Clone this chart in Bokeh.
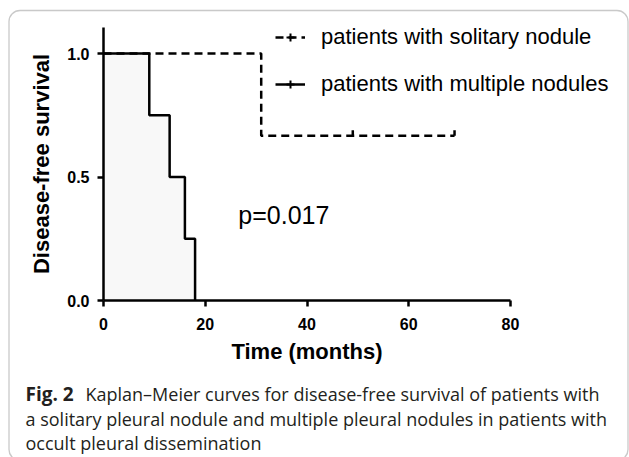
import numpy as np
from bokeh.plotting import figure
from bokeh.models import (Range1d, FixedTicker, Label, Legend, LegendItem,
                          BoxAnnotation, NumeralTickFormatter, LinearAxis)
from bokeh.embed import file_html
from bokeh.resources import INLINE

# ---------------- data ----------------
solitary_time = [0, 31, 69]
solitary_surv = [1.0, 0.667, 0.667]
solitary_censor_time = [49, 69]
solitary_censor_surv = [0.667, 0.667]

multiple_time = [0, 9, 13, 16, 18]
multiple_surv = [1.0, 0.75, 0.5, 0.25, 0.0]

x_ticks = [0, 20, 40, 60, 80]
y_ticks = [0.0, 0.5, 1.0]

legend_labels = ["patients with solitary nodule", "patients with multiple nodules"]
p_value_text = "p=0.017"
x_title = "Time (months)"
y_title = "Disease-free survival"
caption_bold = "Fig. 2"
caption_lines = [
    "Kaplan\u2013Meier curves for disease-free survival of patients with",
    "a solitary pleural nodule and multiple pleural nodules in patients with",
    "occult pleural dissemination",
]

# ---------------- layout constants (pixels) ----------------
W, H = 629, 457
X0_PX, X80_PX = 103, 510      # x = 0 and x = 80
Y0_PX, Y1_PX = 300, 53        # y = 0 and y = 1.0
X_MAX, Y_MAX = 80, 1.105
px_x = (X80_PX - X0_PX) / 80.0
px_y = (Y0_PX - Y1_PX) / 1.0

x_range = Range1d(-X0_PX / px_x, (W - X0_PX) / px_x)
y_range = Range1d(-(H - Y0_PX) / px_y, Y0_PX / px_y)

p = figure(width=W, height=H, output_backend="svg", toolbar_location=None,
           x_range=x_range, y_range=y_range,
           x_axis_location=None, y_axis_location=None,
           min_border=0, min_border_left=0, min_border_right=0,
           min_border_top=0, min_border_bottom=0)
p.outline_line_color = None
p.xgrid.visible = False
p.ygrid.visible = False
p.background_fill_color = "white"
p.border_fill_color = "white"

xaxis = LinearAxis(fixed_location=0, bounds=(0, X_MAX), ticker=FixedTicker(ticks=x_ticks),
                   axis_label=x_title)
yaxis = LinearAxis(fixed_location=0, bounds=(0, Y_MAX), ticker=FixedTicker(ticks=y_ticks),
                   formatter=NumeralTickFormatter(format="0.0"), axis_label=y_title)
for ax in (xaxis, yaxis):
    ax.axis_line_width = 2.5
    ax.axis_line_color = "black"
    ax.major_tick_line_width = 2.5
    ax.major_tick_line_color = "black"
    ax.major_tick_out = 6
    ax.major_tick_in = 0
    ax.minor_tick_line_color = None
    ax.major_label_text_font = "Liberation Sans"
    ax.major_label_text_font_style = "bold"
    ax.major_label_text_font_size = "16px"
    ax.major_label_text_color = "black"
    ax.axis_label_text_font = "Liberation Sans"
    ax.axis_label_text_font_style = "bold"
    ax.axis_label_text_font_size = "22px"
    ax.axis_label_text_color = "black"
xaxis.major_label_standoff = 11
xaxis.axis_label_standoff = 6
yaxis.major_label_standoff = 8
yaxis.axis_label_standoff = 10
p.add_layout(xaxis, "below")
p.add_layout(yaxis, "left")

# fill under multiple-nodule curve
p.varea_step(x=multiple_time, y1=[0] * len(multiple_time), y2=multiple_surv,
             step_mode="after", fill_color="#f8f8f8")

# curves
r_sol = p.step(solitary_time, solitary_surv, mode="after", line_color="black",
               line_width=2.5, line_dash="8 5")
p.segment(x0=solitary_censor_time, y0=solitary_censor_surv,
          x1=solitary_censor_time,
          y1=[s + 0.022 for s in solitary_censor_surv],
          line_color="black", line_width=2.5)
r_mul = p.step(multiple_time, multiple_surv, mode="after", line_color="black",
               line_width=2.5)

# censor marker glyph used only for the legend (size 0 in the plot)
r_tick = p.scatter(solitary_censor_time, solitary_censor_surv, marker="cross", size=0,
                   line_color="black", line_width=2)

legend = Legend(items=[LegendItem(label=legend_labels[0], renderers=[r_sol, r_tick]),
                       LegendItem(label=legend_labels[1], renderers=[r_mul, r_tick])],
                location=(275, 360), orientation="vertical",
                label_text_font="Liberation Sans", label_text_font_size="22px",
                label_text_color="black", glyph_width=30, glyph_height=20,
                label_standoff=16, spacing=21, padding=0, margin=0,
                border_line_alpha=0, background_fill_alpha=0)
p.add_layout(legend, "center")

# p-value
p.add_layout(Label(x=26.5, y=0.345, text=p_value_text, text_font="Liberation Sans",
                   text_font_size="25px", text_color="black",
                   text_baseline="alphabetic"))

# caption (screen units: from canvas bottom-left, y up)
CAP_FONT = "Open Sans"
CAP_COLOR = "#231f20"
cap_x = 25
baselines = [393, 418, 442]
p.add_layout(Label(x=cap_x, y=H - baselines[0], x_units="screen", y_units="screen",
                   text=caption_bold, text_font=CAP_FONT, text_font_style="bold",
                   text_font_size="19px", text_color=CAP_COLOR, text_baseline="alphabetic"))
p.add_layout(Label(x=85, y=H - baselines[0], x_units="screen", y_units="screen",
                   text=caption_lines[0], text_font=CAP_FONT,
                   text_font_size="18px", text_color=CAP_COLOR, text_baseline="alphabetic"))
for i in (1, 2):
    p.add_layout(Label(x=cap_x, y=H - baselines[i], x_units="screen", y_units="screen",
                       text=caption_lines[i], text_font=CAP_FONT,
                       text_font_size="18px", text_color=CAP_COLOR, text_baseline="alphabetic"))

# rounded border box
p.add_layout(BoxAnnotation(left=8.5, right=627.5, top=H - 10, bottom=-3,
                           left_units="screen", right_units="screen",
                           top_units="screen", bottom_units="screen",
                           fill_alpha=0, line_color="#4d4d4d", line_width=1.3,
                           border_radius=11, level="overlay"))

open("out.html", "w").write(file_html(p, INLINE))
